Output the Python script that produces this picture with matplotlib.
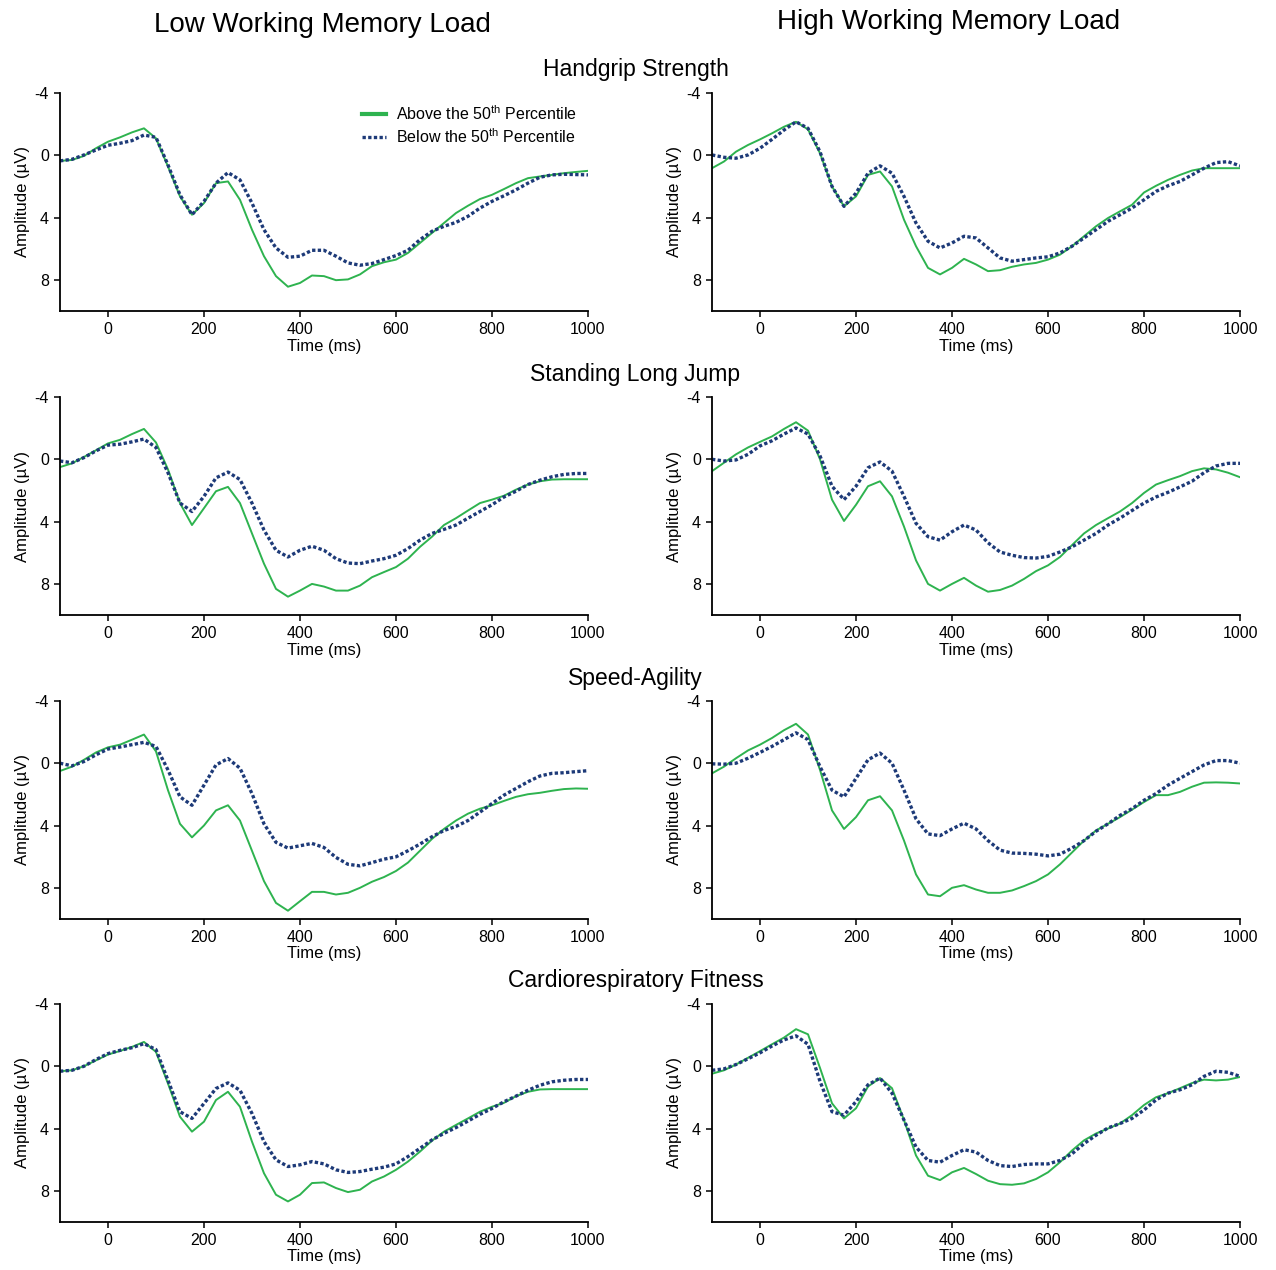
import numpy as np
import matplotlib
matplotlib.use("Agg")
import matplotlib.pyplot as plt

plt.rcParams["font.family"] = ["Liberation Sans", "DejaVu Sans"]
plt.rcParams["mathtext.fontset"] = "custom"
plt.rcParams["mathtext.rm"] = "Liberation Sans"
plt.rcParams["axes.unicode_minus"] = False

# ── Data (µV, 25 ms steps) ──────────────────────────────────────────
time_ms = np.arange(-100, 1001, 25)

hg_low_above = [0.36, 0.3, 0.04, -0.45, -0.87, -1.15, -1.47, -1.73, -1.09, 0.72, 2.64, 3.82, 3.07, 1.79, 1.68,
                2.86, 4.78, 6.48, 7.76, 8.44, 8.2, 7.72, 7.76, 8.02, 7.97, 7.65, 7.12, 6.87, 6.7, 6.27,
                5.63, 4.99, 4.35, 3.71, 3.24, 2.81, 2.54, 2.17, 1.79, 1.47, 1.36, 1.26, 1.15, 1.07, 1.0]
hg_low_below = [0.36, 0.26, -0.02, -0.34, -0.64, -0.77, -0.94, -1.3, -1.15, 0.62, 2.54, 3.82, 2.96, 1.79, 1.11,
                1.58, 3.07, 4.78, 5.95, 6.55, 6.48, 6.1, 6.1, 6.48, 6.91, 7.06, 6.95, 6.7, 6.44, 6.1,
                5.42, 4.88, 4.56, 4.31, 3.92, 3.39, 2.96, 2.6, 2.22, 1.79, 1.41, 1.26, 1.22, 1.24, 1.26]
hg_high_above = [0.83, 0.4, -0.23, -0.66, -1.02, -1.41, -1.83, -2.15, -1.66, -0.13, 2.0, 3.28, 2.64, 1.26, 1.04,
                 2.0, 4.14, 5.84, 7.23, 7.65, 7.23, 6.65, 7.01, 7.44, 7.38, 7.16, 7.01, 6.91, 6.7, 6.38,
                 5.84, 5.2, 4.56, 4.03, 3.6, 3.18, 2.39, 1.96, 1.58, 1.26, 0.98, 0.83, 0.83, 0.83, 0.83]
hg_high_below = [-0.02, 0.13, 0.19, -0.02, -0.45, -1.02, -1.62, -2.15, -1.73, -0.23, 2.0, 3.28, 2.43, 1.15, 0.68,
                 1.15, 2.64, 4.35, 5.52, 5.95, 5.63, 5.2, 5.31, 5.95, 6.59, 6.8, 6.7, 6.59, 6.52, 6.27,
                 5.84, 5.31, 4.78, 4.24, 3.82, 3.39, 2.86, 2.32, 1.96, 1.68, 1.26, 0.83, 0.47, 0.41, 0.68]

slj_low_above = [0.5, 0.26, -0.15, -0.58, -1.02, -1.25, -1.62, -1.95, -1.08, 0.65, 2.81, 4.22, 3.14, 2.05, 1.77,
                 2.81, 4.76, 6.7, 8.32, 8.82, 8.43, 8.0, 8.17, 8.43, 8.43, 8.11, 7.57, 7.24, 6.92, 6.38,
                 5.62, 4.97, 4.22, 3.78, 3.29, 2.81, 2.59, 2.34, 1.95, 1.62, 1.41, 1.3, 1.28, 1.28, 1.28]
slj_low_below = [0.11, 0.22, -0.11, -0.54, -0.91, -0.97, -1.12, -1.3, -0.76, 0.86, 2.81, 3.35, 2.38, 1.19, 0.82,
                 1.3, 2.81, 4.54, 5.84, 6.27, 5.84, 5.58, 5.84, 6.38, 6.66, 6.7, 6.53, 6.38, 6.16, 5.73,
                 5.19, 4.76, 4.5, 4.22, 3.78, 3.35, 2.92, 2.42, 2.05, 1.62, 1.34, 1.12, 0.97, 0.91, 0.91]
slj_high_above = [0.76, 0.22, -0.32, -0.76, -1.12, -1.47, -1.95, -2.38, -1.84, 0.0, 2.59, 3.96, 2.92, 1.73, 1.41,
                  2.38, 4.32, 6.49, 8.0, 8.43, 8.0, 7.61, 8.11, 8.5, 8.39, 8.11, 7.68, 7.18, 6.81, 6.27,
                  5.51, 4.76, 4.22, 3.78, 3.35, 2.81, 2.16, 1.62, 1.34, 1.08, 0.76, 0.58, 0.65, 0.86, 1.15]
slj_high_below = [0.0, 0.11, 0.04, -0.32, -0.86, -1.19, -1.62, -2.01, -1.62, -0.22, 1.73, 2.59, 1.73, 0.54, 0.17,
                  0.76, 2.38, 4.11, 4.97, 5.19, 4.65, 4.22, 4.54, 5.36, 5.95, 6.16, 6.31, 6.34, 6.23, 5.95,
                  5.62, 5.19, 4.76, 4.22, 3.78, 3.29, 2.81, 2.42, 2.12, 1.77, 1.41, 0.86, 0.43, 0.26, 0.26]

sa_low_above = [0.5, 0.22, -0.22, -0.69, -1.02, -1.19, -1.51, -1.84, -0.76, 1.73, 3.89, 4.76, 4.0, 3.03, 2.7,
                3.68, 5.62, 7.57, 8.97, 9.47, 8.86, 8.26, 8.26, 8.43, 8.32, 8.0, 7.61, 7.31, 6.92, 6.38,
                5.62, 4.86, 4.22, 3.68, 3.24, 2.92, 2.7, 2.42, 2.16, 1.99, 1.9, 1.77, 1.66, 1.62, 1.64]
sa_low_below = [0.0, 0.17, -0.11, -0.54, -0.91, -1.04, -1.19, -1.34, -1.08, 0.43, 2.16, 2.7, 1.41, 0.11, -0.3,
                0.32, 1.95, 3.89, 5.08, 5.45, 5.3, 5.15, 5.41, 6.05, 6.49, 6.59, 6.38, 6.16, 6.01, 5.62,
                5.19, 4.72, 4.32, 4.06, 3.68, 3.14, 2.59, 2.05, 1.62, 1.19, 0.82, 0.65, 0.61, 0.54, 0.48]
sa_high_above = [0.65, 0.22, -0.32, -0.82, -1.19, -1.62, -2.12, -2.53, -1.84, 0.43, 3.03, 4.22, 3.46, 2.38, 2.12,
                 3.03, 4.97, 7.14, 8.43, 8.54, 8.0, 7.83, 8.11, 8.32, 8.32, 8.17, 7.89, 7.57, 7.14, 6.49,
                 5.73, 4.97, 4.32, 3.89, 3.46, 2.98, 2.49, 2.05, 2.05, 1.84, 1.51, 1.25, 1.23, 1.25, 1.3]
sa_high_below = [0.04, 0.06, 0.0, -0.32, -0.69, -1.08, -1.51, -1.95, -1.51, 0.22, 1.73, 2.16, 0.97, -0.22, -0.65,
                 0.0, 1.73, 3.57, 4.54, 4.65, 4.22, 3.85, 4.22, 4.97, 5.58, 5.77, 5.79, 5.84, 5.95, 5.84,
                 5.45, 4.97, 4.37, 3.89, 3.35, 2.92, 2.38, 1.95, 1.41, 0.97, 0.54, 0.11, -0.17, -0.17, 0.0]

cf_low_above = [0.32, 0.26, 0.0, -0.38, -0.75, -0.98, -1.24, -1.56, -0.92, 1.11, 3.24, 4.2, 3.56, 2.17, 1.64,
                2.6, 4.84, 6.87, 8.25, 8.68, 8.25, 7.5, 7.46, 7.82, 8.08, 7.93, 7.4, 7.08, 6.65, 6.12,
                5.48, 4.78, 4.2, 3.77, 3.35, 2.92, 2.6, 2.35, 1.92, 1.64, 1.49, 1.47, 1.47, 1.47, 1.47]
cf_low_below = [0.32, 0.26, 0.0, -0.43, -0.81, -1.02, -1.19, -1.45, -1.07, 0.9, 2.92, 3.35, 2.39, 1.43, 1.07,
                1.54, 3.03, 4.84, 6.01, 6.44, 6.33, 6.12, 6.27, 6.65, 6.82, 6.76, 6.61, 6.48, 6.27, 5.8,
                5.27, 4.73, 4.31, 3.94, 3.52, 3.09, 2.71, 2.28, 1.92, 1.54, 1.22, 1.0, 0.9, 0.85, 0.85]
cf_high_above = [0.48, 0.26, -0.11, -0.54, -0.97, -1.41, -1.84, -2.38, -2.05, 0.11, 2.38, 3.35, 2.7, 1.3, 0.76,
                 1.41, 3.46, 5.73, 7.03, 7.31, 6.81, 6.53, 6.92, 7.35, 7.57, 7.61, 7.52, 7.24, 6.81, 6.16,
                 5.41, 4.76, 4.32, 4.0, 3.68, 3.14, 2.49, 1.99, 1.73, 1.41, 1.08, 0.86, 0.91, 0.86, 0.69]
cf_high_below = [0.26, 0.17, -0.11, -0.48, -0.86, -1.3, -1.69, -1.95, -1.41, 0.97, 2.92, 3.14, 2.27, 1.19, 0.76,
                 1.73, 3.46, 5.19, 6.05, 6.16, 5.73, 5.36, 5.51, 6.05, 6.38, 6.44, 6.31, 6.27, 6.27, 6.05,
                 5.62, 4.97, 4.43, 3.96, 3.68, 3.35, 2.81, 2.16, 1.73, 1.51, 1.19, 0.65, 0.32, 0.39, 0.65]

row_titles = ["Handgrip Strength", "Standing Long Jump", "Speed-Agility", "Cardiorespiratory Fitness"]
col_titles = ["Low Working Memory Load", "High Working Memory Load"]
panels = [
    [(hg_low_above, hg_low_below), (hg_high_above, hg_high_below)],
    [(slj_low_above, slj_low_below), (slj_high_above, slj_high_below)],
    [(sa_low_above, sa_low_below), (sa_high_above, sa_high_below)],
    [(cf_low_above, cf_low_below), (cf_high_above, cf_high_below)],
]

GREEN = "#2eb34f"
NAVY = "#1d3a78"

fig = plt.figure(figsize=(12.76, 12.70), dpi=100)

lefts = [0.047, 0.558]
bottoms = [0.7551, 0.5157, 0.2764, 0.0378]
W, H = 0.4138, 0.1717

for r, row in enumerate(panels):
    for c, (above, below) in enumerate(row):
        ax = fig.add_axes([lefts[c], bottoms[r], W, H])
        ax.plot(time_ms, above, color=GREEN, lw=1.4, solid_joinstyle="round",
                label="Above the 50$^{\\rm th}$ Percentile")
        ax.plot(time_ms, below, color=NAVY, lw=2.4, linestyle=(0, (1.0, 0.7)),
                label="Below the 50$^{\\rm th}$ Percentile")
        ax.set_xlim(-100, 1000)
        ax.set_ylim(10, -4)
        ax.set_yticks([-4, 0, 4, 8])
        ax.set_xticks([0, 200, 400, 600, 800, 1000])
        ax.spines["top"].set_visible(False)
        ax.spines["right"].set_visible(False)
        ax.spines["left"].set_linewidth(1.3)
        ax.spines["bottom"].set_linewidth(1.3)
        ax.tick_params(labelsize=11.5, length=4, width=1.1, pad=4)
        ax.set_xlabel("Time (ms)", fontsize=12, labelpad=1)
        ax.set_ylabel("Amplitude (µV)", fontsize=12, labelpad=3)
        if r == 0 and c == 0:
            leg = ax.legend(loc="upper right", bbox_to_anchor=(1.0, 1.0), frameon=False,
                            fontsize=11.5, handlelength=1.5, handletextpad=0.6,
                            labelspacing=0.25, borderaxespad=0.3)
            leg.get_lines()[0].set_linewidth(3)

for txt, x, y in zip(col_titles, [0.253, 0.743], [0.980, 0.983]):
    fig.text(x, y, txt, ha="center", va="center", fontsize=20)

for txt, y in zip(row_titles, [0.945, 0.7055, 0.466, 0.2276]):
    fig.text(0.498, y, txt, ha="center", va="center", fontsize=16.5)

fig.savefig("out.png", dpi=100)
